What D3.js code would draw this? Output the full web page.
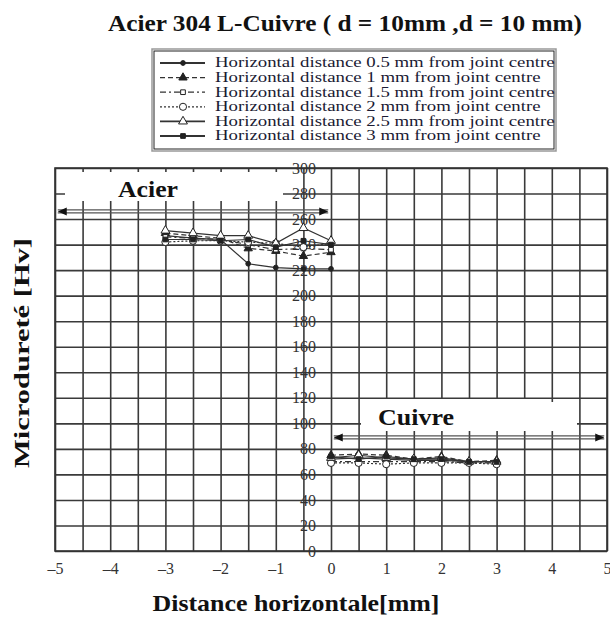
<!DOCTYPE html>
<html>
<head>
<meta charset="utf-8">
<script src="https://d3js.org/d3.v7.min.js"></script>
<style>
  body { margin: 0; background: #fff; }
  text { font-family: "Liberation Serif", "DejaVu Serif", serif; }
</style>
</head>
<body>
<svg id="chart" width="610" height="619"></svg>
<script>
// ---- data ----
var xTicks = [-5, -4, -3, -2, -1, 0, 1, 2, 3, 4, 5];
var xGrid = [-5, -4.5, -4, -3.5, -3, -2.5, -2, -1.5, -1, -0.5, 0, 0.5, 1, 1.5, 2, 2.5, 3, 3.5, 4, 4.5, 5];
var yTicks = [0, 20, 40, 60, 80, 100, 120, 140, 160, 180, 200, 220, 240, 260, 280, 300];

var acierPos = [-3, -2.5, -2, -1.5, -1, -0.5, 0];
var cuivrePos = [0, 0.5, 1, 1.5, 2, 2.5, 3];

var seriesNames = [
  "Horizontal distance 0.5 mm from joint centre",
  "Horizontal distance 1 mm from joint centre",
  "Horizontal distance 1.5 mm from joint centre",
  "Horizontal distance 2 mm from joint centre",
  "Horizontal distance 2.5 mm from joint centre",
  "Horizontal distance 3 mm from joint centre"
];
var acierValues = [
  [247, 245, 244, 225, 222, 221, 221],
  [249, 247, 245, 237, 235, 231, 234],
  [246, 245, 244, 240, 236, 237, 236],
  [242, 243, 243, 242, 241, 238, 241],
  [251, 249, 247, 247, 241, 253, 243],
  [244, 244, 243, 244, 238, 243, 240]
];
var cuivreValues = [
  [72, 73, 72, 71, 71, 70, 70],
  [75, 76, 75, 72, 74, 70, 71],
  [70, 70, 70, 70, 70, 69, 69],
  [69, 69, 68, 69, 69, 69, 68],
  [73, 75, 73, 72, 73, 70, 70],
  [74, 72, 74, 72, 72, 70, 70]
];
// zone arrows: [from, to, level]
var acierZone = [-4.95, -0.05, 266];
var cuivreZone = [0.05, 4.95, 89];

// ---- styles per series ----
var dash = ["none", "5,3", "6,3,2,3", "2,2", "none", "none"];
var symType = [d3.symbolCircle, d3.symbolTriangle, d3.symbolSquare, d3.symbolCircle, d3.symbolTriangle, d3.symbolSquare];
var symSize = [18, 30, 22, 40, 34, 22];
var symFill = ["#222", "#222", "#fff", "#fff", "#fff", "#222"];

var svg = d3.select("#chart");
var x = d3.scaleLinear().domain([-5, 5]).range([55, 607]);
var y = d3.scaleLinear().domain([0, 300]).range([551, 168]);

// grid through axes
svg.append("g")
  .attr("transform", "translate(0," + y(0) + ")")
  .call(d3.axisBottom(x).tickValues(xGrid).tickSize(-(y(0) - y(300))).tickFormat(""))
  .call(g => g.select(".domain").remove())
  .selectAll("line").attr("stroke", "#3a3a3a").attr("stroke-width", 1.6);
svg.append("g")
  .attr("transform", "translate(" + x(-5) + ",0)")
  .call(d3.axisLeft(y).tickValues(yTicks).tickSize(-(x(5) - x(-5))).tickFormat(""))
  .call(g => g.select(".domain").remove())
  .selectAll("line").attr("stroke", "#3a3a3a").attr("stroke-width", 1.6);
svg.append("rect")
  .attr("x", x(-5)).attr("y", y(300))
  .attr("width", x(5) - x(-5)).attr("height", y(0) - y(300))
  .attr("fill", "none").attr("stroke", "#333").attr("stroke-width", 1.6);

// white label boxes
svg.append("rect").attr("x", 65).attr("y", 172).attr("width", 218).attr("height", 29).attr("fill", "#fff");
svg.append("rect").attr("x", 361).attr("y", 399).attr("width", 190).attr("height", 32).attr("fill", "#fff");
svg.append("rect").attr("x", 551).attr("y", 402).attr("width", 26).attr("height", 29).attr("fill", "#fff");

// zone arrows
function zoneArrow(z) {
  var x1 = x(z[0]), x2 = x(z[1]), yy = y(z[2]);
  [-1.5, 1.5].forEach(function(o) {
    svg.append("line").attr("x1", x1).attr("x2", x2).attr("y1", yy + o).attr("y2", yy + o)
      .attr("stroke", "#555").attr("stroke-width", 1.1);
  });
  svg.append("path").attr("d", "M" + x1 + "," + yy + "l9,-4l0,8z").attr("fill", "#111");
  svg.append("path").attr("d", "M" + x2 + "," + yy + "l-9,-4l0,8z").attr("fill", "#111");
}
zoneArrow(acierZone);
zoneArrow(cuivreZone);

function boldText(tx, ty, size, len, str) {
  return svg.append("text").attr("x", tx).attr("y", ty).attr("text-anchor", "middle")
    .attr("font-size", size).attr("font-weight", "bold").attr("fill", "#111")
    .attr("textLength", len).attr("lengthAdjust", "spacingAndGlyphs").text(str);
}
boldText(148, 197, 23, 60, "Acier");
boldText(416, 425, 24, 76, "Cuivre");

// tick labels
svg.append("g")
  .attr("transform", "translate(0," + (y(0) + 8) + ")")
  .call(d3.axisBottom(x).tickValues(xTicks).tickSize(0).tickPadding(4)
    .tickFormat(function(d) { return d < 0 ? "\u2013" + Math.abs(d) : d; }))
  .call(g => g.select(".domain").remove())
  .selectAll("text").attr("font-size", 16).attr("fill", "#333")
  .attr("font-family", "Liberation Serif, serif");
svg.append("g")
  .attr("transform", "translate(" + (x(0) - 13) + ",0)")
  .call(d3.axisLeft(y).tickValues(yTicks).tickSize(0).tickPadding(2))
  .call(g => g.select(".domain").remove())
  .selectAll("text").attr("font-size", 16).attr("fill", "#333")
  .attr("font-family", "Liberation Serif, serif");

// series
var line = d3.line().x(function(d) { return x(d[0]); }).y(function(d) { return y(d[1]); });
seriesNames.forEach(function(name, i) {
  [[acierPos, acierValues[i]], [cuivrePos, cuivreValues[i]]].forEach(function(part) {
    var pts = part[0].map(function(p, k) { return [p, part[1][k]]; });
    svg.append("path").datum(pts).attr("d", line)
      .attr("fill", "none").attr("stroke", "#333").attr("stroke-width", 1.2)
      .attr("stroke-dasharray", dash[i]);
    svg.append("g").selectAll("path").data(pts).enter().append("path")
      .attr("transform", function(d) { return "translate(" + x(d[0]) + "," + y(d[1]) + ")"; })
      .attr("d", d3.symbol().type(symType[i]).size(symSize[i]))
      .attr("fill", symFill[i]).attr("stroke", "#222").attr("stroke-width", 1);
  });
});

// legend
var lg = svg.append("g");
lg.append("rect").attr("x", 152).attr("y", 49).attr("width", 404).attr("height", 102)
  .attr("fill", "#fff").attr("stroke", "#999").attr("stroke-width", 1.5);
lg.append("rect").attr("x", 154).attr("y", 51).attr("width", 400).attr("height", 98)
  .attr("fill", "none").attr("stroke", "#222").attr("stroke-width", 1);
var kx = 1;
seriesNames.forEach(function(name, i) {
  var cy = 63 + i * 14.6;
  lg.append("line").attr("x1", 160).attr("x2", 205).attr("y1", cy).attr("y2", cy)
    .attr("stroke", "#333").attr("stroke-width", i === 0 || i >= 4 ? 1.8 : 1.2)
    .attr("stroke-dasharray", dash[i]);
  lg.append("path").attr("transform", "translate(183," + cy + ")")
    .attr("d", d3.symbol().type(symType[i]).size(symSize[i]))
    .attr("fill", symFill[i]).attr("stroke", "#222").attr("stroke-width", 1);
  var t = lg.append("text").attr("x", 215).attr("y", cy + 4.5)
    .attr("font-size", 14).attr("fill", "#1a1a33").text(name);
  if (i === 0) kx = 340 / t.node().getComputedTextLength();
  t.attr("transform", "translate(215,0) scale(" + kx + ",1) translate(-215,0)");
});

// titles
boldText(345, 31, 24, 474, "Acier 304 L-Cuivre ( d = 10mm ,d = 10 mm)");
boldText(296, 611, 24, 287, "Distance horizontale[mm]");
svg.append("text").attr("transform", "translate(29,353) rotate(-90)").attr("text-anchor", "middle")
  .attr("font-size", 22).attr("font-weight", "bold").attr("fill", "#111")
  .attr("textLength", 230).attr("lengthAdjust", "spacingAndGlyphs")
  .text("Microdureté [Hv]");
</script>
</body>
</html>
